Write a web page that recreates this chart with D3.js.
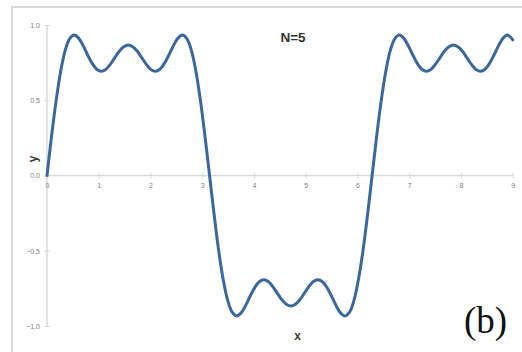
<!DOCTYPE html>
<html>
<head>
<meta charset="utf-8">
<script src="https://cdn.jsdelivr.net/npm/d3@7"></script>
<style>
  html, body { margin: 0; padding: 0; background: #fff; }
  svg { display: block; }
</style>
</head>
<body>
<svg id="chart" width="522" height="352"></svg>
<script>
// Partial Fourier sum of a square wave, N=5 (sampled every 5 degrees, x in radians)
const xValues = [
  0, 0.087, 0.175, 0.262, 0.349, 0.436, 0.524, 0.611, 0.698, 0.785,
  0.873, 0.960, 1.047, 1.134, 1.222, 1.309, 1.396, 1.484, 1.571, 1.658,
  1.745, 1.833, 1.920, 2.007, 2.094, 2.182, 2.269, 2.356, 2.443, 2.531,
  2.618, 2.705, 2.793, 2.880, 2.967, 3.054, 3.142, 3.229, 3.316, 3.403,
  3.491, 3.578, 3.665, 3.752, 3.840, 3.927, 4.014, 4.102, 4.189, 4.276,
  4.363, 4.451, 4.538, 4.625, 4.712, 4.800, 4.887, 4.974, 5.061, 5.149,
  5.236, 5.323, 5.411, 5.498, 5.585, 5.672, 5.760, 5.847, 5.934, 6.021,
  6.109, 6.196, 6.283, 6.370, 6.458, 6.545, 6.632, 6.720, 6.807, 6.894,
  6.981, 7.069, 7.156, 7.243, 7.330, 7.418, 7.505, 7.592, 7.679, 7.767,
  7.854, 7.941, 8.029, 8.116, 8.203, 8.290, 8.378, 8.465, 8.552, 8.639,
  8.727, 8.814, 8.901, 8.988, 9.000
];
const yValues = [
  0, 0.258, 0.494, 0.688, 0.828, 0.908, 0.933, 0.913, 0.863, 0.801,
  0.745, 0.706, 0.693, 0.705, 0.738, 0.782, 0.825, 0.855, 0.867, 0.855,
  0.825, 0.782, 0.738, 0.705, 0.693, 0.706, 0.745, 0.801, 0.863, 0.913,
  0.933, 0.908, 0.828, 0.688, 0.494, 0.258, 0, -0.258, -0.494, -0.688,
  -0.828, -0.908, -0.933, -0.913, -0.863, -0.801, -0.745, -0.706, -0.693, -0.705,
  -0.738, -0.782, -0.825, -0.855, -0.867, -0.855, -0.825, -0.782, -0.738, -0.705,
  -0.693, -0.706, -0.745, -0.801, -0.863, -0.913, -0.933, -0.908, -0.828, -0.688,
  -0.494, -0.258, 0, 0.258, 0.494, 0.688, 0.828, 0.908, 0.933, 0.913,
  0.863, 0.801, 0.745, 0.706, 0.693, 0.705, 0.738, 0.782, 0.825, 0.855,
  0.867, 0.855, 0.825, 0.782, 0.738, 0.705, 0.693, 0.706, 0.745, 0.801,
  0.863, 0.913, 0.933, 0.908, 0.901
];
const xTicks = [0, 1, 2, 3, 4, 5, 6, 7, 8, 9];
const yTicks = [-1.0, -0.5, 0.0, 0.5, 1.0];
const titleText = "N=5";
const panelLabel = "(b)";

const svg = d3.select("#chart");

const x = d3.scaleLinear().domain([0, 9]).range([47, 512.7]);
const y = d3.scaleLinear().domain([-1, 1]).range([326, 25]);

// outer frame (top and left edges)
svg.append("path")
  .attr("d", "M12,352 L12,7 L522,7")
  .attr("fill", "none")
  .attr("stroke", "#d9d9d9")
  .attr("stroke-width", 2);

const axisColor = "#d9d9d9";
const tickTextColor = "#808080";

// y axis
const yAxis = svg.append("g")
  .attr("transform", `translate(${x(0)},0)`)
  .call(d3.axisLeft(y).tickValues(yTicks).tickFormat(d3.format(".1f")).tickSize(3).tickPadding(4));
yAxis.select(".domain").attr("stroke", axisColor).attr("stroke-width", 1.5)
  .attr("d", `M0,${y(1)}V${y(-1)}`);
yAxis.selectAll(".tick line").attr("stroke", axisColor).attr("x2", 3).attr("x1", -3);
yAxis.selectAll(".tick text")
  .attr("fill", tickTextColor)
  .attr("font-family", "Liberation Sans, Arial, sans-serif")
  .attr("font-size", 7);

// x axis at y = 0
const xAxis = svg.append("g")
  .attr("transform", `translate(0,${y(0)})`)
  .call(d3.axisBottom(x).tickValues(xTicks).tickFormat(d3.format("d")).tickSize(3).tickPadding(5));
xAxis.select(".domain").attr("stroke", axisColor).attr("stroke-width", 1.5)
  .attr("d", `M${x(0)},0H${x(9)}`);
xAxis.selectAll(".tick line").attr("stroke", axisColor).attr("y1", -3).attr("y2", 3);
xAxis.selectAll(".tick text")
  .attr("fill", tickTextColor)
  .attr("font-family", "Liberation Sans, Arial, sans-serif")
  .attr("font-size", 7);

// curve
const points = xValues.map((v, i) => [v, yValues[i]]);
svg.append("path")
  .datum(points)
  .attr("fill", "none")
  .attr("stroke", "#3b679c")
  .attr("stroke-width", 3)
  .attr("stroke-linejoin", "round")
  .attr("stroke-linecap", "round")
  .attr("d", d3.line().x(d => x(d[0])).y(d => y(d[1])).curve(d3.curveCatmullRom));

// axis titles
svg.append("text")
  .attr("transform", `translate(36.5,159) rotate(-90)`)
  .attr("text-anchor", "middle")
  .attr("font-family", "Liberation Sans, Arial, sans-serif")
  .attr("font-weight", "bold")
  .attr("font-size", 12)
  .attr("fill", "#3a3a3a")
  .text("y");

svg.append("text")
  .attr("x", 297.5)
  .attr("y", 339.5)
  .attr("text-anchor", "middle")
  .attr("font-family", "Liberation Sans, Arial, sans-serif")
  .attr("font-weight", "bold")
  .attr("font-size", 12)
  .attr("fill", "#3a3a3a")
  .text("x");

svg.append("text")
  .attr("x", 293)
  .attr("y", 42)
  .attr("text-anchor", "middle")
  .attr("font-family", "Liberation Sans, Arial, sans-serif")
  .attr("font-weight", "bold")
  .attr("font-size", 13.5)
  .attr("fill", "#333")
  .text(titleText);

svg.append("text")
  .attr("x", 485.5)
  .attr("y", 333)
  .attr("text-anchor", "middle")
  .attr("font-family", "Liberation Serif, Times New Roman, serif")
  .attr("font-size", 37)
  .attr("fill", "#111")
  .text(panelLabel);
</script>
</body>
</html>
